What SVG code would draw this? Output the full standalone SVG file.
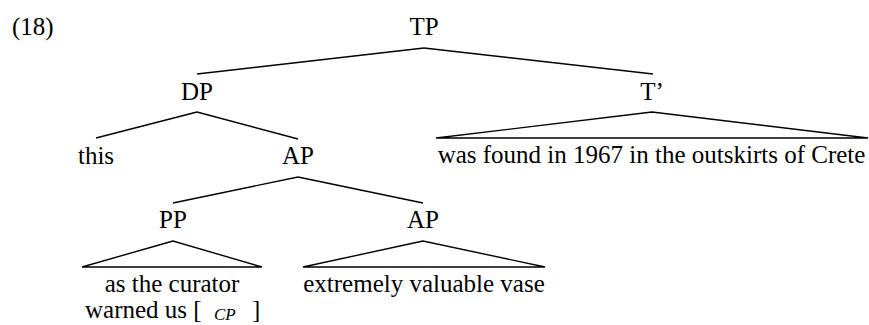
<svg xmlns="http://www.w3.org/2000/svg" width="869" height="325" viewBox="0 0 869 325">
<style>
text{font-family:"Liberation Serif","Times New Roman",Times,serif;font-size:25px;fill:#000}
.c{text-anchor:middle}
.e line,.e polygon{stroke:#000;stroke-width:1.4;fill:none}
</style>
<rect width="869" height="325" fill="#fff"/>
<text x="12" y="35">(18)</text>
<g id="TP"><text class="c" x="424" y="35">TP</text></g>
<g id="DP"><text class="c" x="197" y="100">DP</text></g>
<g id="Tbar"><text class="c" x="652" y="100">T’</text></g>
<g id="this"><text class="c" x="96" y="164">this</text></g>
<g id="AP1"><text class="c" x="298" y="164">AP</text></g>
<g id="Tbar-content"><text class="c" x="651.5" y="163">was found in 1967 in the outskirts of Crete</text></g>
<g id="PP"><text class="c" x="173" y="228">PP</text></g>
<g id="AP2"><text class="c" x="423" y="228">AP</text></g>
<g id="PP-content"><text class="c" x="172" y="292">as the curator</text><text x="85" y="318">warned us [<tspan x="214" y="320" font-size="17" font-style="italic">CP</tspan><tspan x="252" y="318">]</tspan></text></g>
<g id="AP2-content"><text class="c" x="424" y="292">extremely valuable vase</text></g>
<g id="connectors" class="e">
<line x1="424" y1="48" x2="197" y2="74"/>
<line x1="424" y1="48" x2="653" y2="74"/>
<line x1="197" y1="112" x2="96" y2="138"/>
<line x1="197" y1="112" x2="298" y2="139"/>
<polygon points="652,112 436,138 868,138"/>
<line x1="298" y1="177" x2="173" y2="203"/>
<line x1="298" y1="177" x2="423" y2="203"/>
<polygon points="173,241 82,267 262,267"/>
<polygon points="423,241 303,267 545,267"/>
</g>
</svg>
